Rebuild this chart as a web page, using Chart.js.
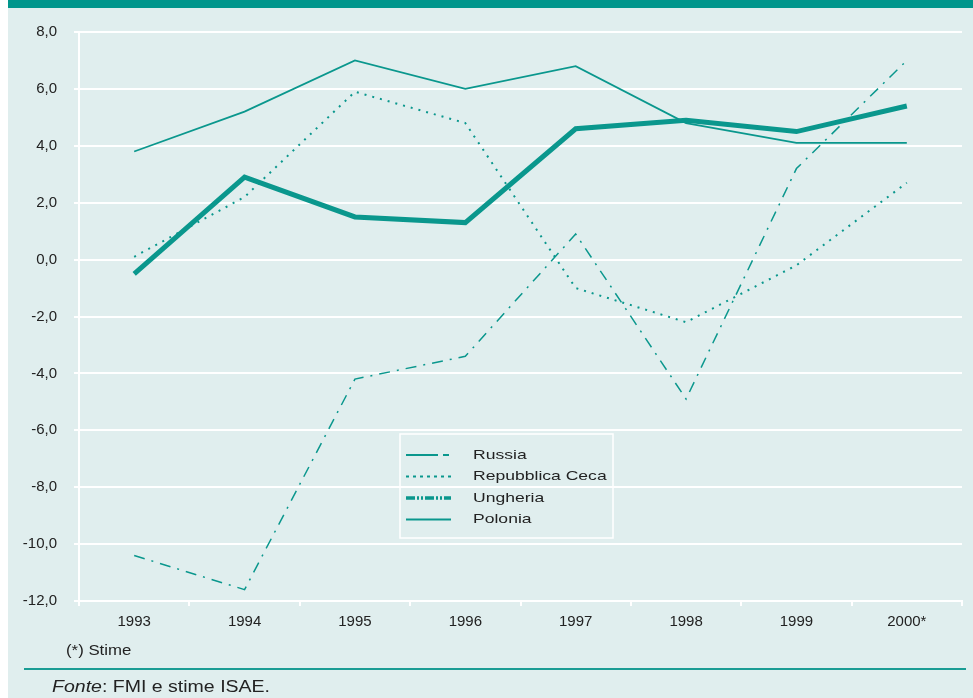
<!DOCTYPE html>
<html>
<head>
<meta charset="utf-8">
<script src="https://cdn.jsdelivr.net/npm/chart.js@4/dist/chart.umd.min.js"></script>
<style>
    body { margin: 0; background: #fff; font-family: "Liberation Sans", Arial, sans-serif; }
    #page { position: absolute; left: 8px; top: 0; width: 965px; height: 698px; background: #e0eeee; }
    #topbar { position: absolute; left: 8px; top: 0; width: 965px; height: 8px; background: #00968c; }
    #chart { position: absolute; left: 0; top: 0; }
    #note { position: absolute; left: 66px; top: 641px; font-size: 15px; color: #222; transform: scaleX(1.12); transform-origin: 0 0; }
    #rule { position: absolute; left: 24px; top: 668px; width: 942px; height: 2px; background: #1a9c94; }
    #fonte { position: absolute; left: 52px; top: 678px; font-size: 16px; color: #222; transform: scaleX(1.22); transform-origin: 0 0; white-space: nowrap; }
</style>
</head>
<body>
<div id="page"></div>
<div id="topbar"></div>
<canvas id="chart" width="973" height="698"></canvas>
<div id="note">(*) Stime</div>
<div id="rule"></div>
<div id="fonte"><i>Fonte</i>: FMI e stime ISAE.</div>
<script>
    const anni = ['1993', '1994', '1995', '1996', '1997', '1998', '1999', '2000*'];

    const russia = [-10.4, -11.6, -4.2, -3.4, 0.9, -4.9, 3.2, 7.0];
    const repCeca = [0.1, 2.2, 5.9, 4.8, -1.0, -2.2, -0.2, 2.7];
    const ungheria = [-0.5, 2.9, 1.5, 1.3, 4.6, 4.9, 4.5, 5.4];
    const polonia = [3.8, 5.2, 7.0, 6.0, 6.8, 4.8, 4.1, 4.1];

    const teal = '#0a978d';
    const fontFamily = '"Liberation Sans", Arial, sans-serif';

    // legend drawn by hand, the samples are line patterns
    const legendaPlugin = {
        id: 'legenda',
        afterDraw(chart) {
            const ctx = chart.ctx;
            ctx.save();
            ctx.strokeStyle = '#ffffff';
            ctx.lineWidth = 1.5;
            ctx.strokeRect(400, 434, 213, 104);

            const voci = [
                { label: 'Russia', dash: [32, 5, 6, 100], width: 2 },
                { label: 'Repubblica Ceca', dash: [3, 4], width: 2 },
                { label: 'Ungheria', dash: [9, 2, 2, 2, 2, 2], width: 3.5 },
                { label: 'Polonia', dash: [], width: 2 }
            ];
            ctx.font = '13.5px ' + fontFamily;
            ctx.textBaseline = 'middle';
            voci.forEach((v, i) => {
                const y = 455 + i * 21.5;
                ctx.strokeStyle = teal;
                ctx.lineWidth = v.width;
                ctx.setLineDash(v.dash);
                ctx.beginPath();
                ctx.moveTo(406, y);
                ctx.lineTo(451, y);
                ctx.stroke();
                ctx.setLineDash([]);
                ctx.fillStyle = '#222';
                ctx.save();
                ctx.translate(473, y);
                ctx.scale(1.3, 1);
                ctx.fillText(v.label, 0, 0);
                ctx.restore();
            });
            ctx.restore();
        }
    };

    const ctx = document.getElementById('chart').getContext('2d');
    new Chart(ctx, {
        type: 'line',
        data: {
            labels: anni,
            datasets: [
                {
                    label: 'Russia',
                    data: russia,
                    borderColor: teal,
                    borderWidth: 1.5,
                    borderDash: [11, 7, 2, 7],
                    pointRadius: 0,
                    tension: 0
                },
                {
                    label: 'Repubblica Ceca',
                    data: repCeca,
                    borderColor: teal,
                    borderWidth: 2,
                    borderDash: [2, 6],
                    pointRadius: 0,
                    tension: 0
                },
                {
                    label: 'Ungheria',
                    data: ungheria,
                    borderColor: teal,
                    borderWidth: 5,
                    pointRadius: 0,
                    tension: 0
                },
                {
                    label: 'Polonia',
                    data: polonia,
                    borderColor: teal,
                    borderWidth: 1.8,
                    pointRadius: 0,
                    tension: 0
                }
            ]
        },
        options: {
            responsive: false,
            animation: false,
            layout: { padding: { left: 0, top: 32, right: 11, bottom: 0 } },
            plugins: {
                legend: { display: false },
                tooltip: { enabled: false }
            },
            scales: {
                x: {
                    offset: true,
                    afterFit: s => { s.height = 97; },
                    grid: {
                        offset: true,
                        drawOnChartArea: true,
                        color: c => (c.index === anni.length ? '#ffffff' : 'rgba(0,0,0,0)'),
                        lineWidth: 2,
                        tickLength: 5,
                        tickColor: '#ffffff',
                        tickWidth: 2
                    },
                    border: { display: true, color: '#ffffff', width: 2 },
                    ticks: {
                        color: '#222',
                        padding: 7,
                        maxRotation: 0,
                        font: { family: fontFamily, size: 15 }
                    }
                },
                y: {
                    min: -12,
                    max: 8,
                    afterFit: s => { s.width = 79; },
                    grid: {
                        color: '#ffffff',
                        lineWidth: 2,
                        tickLength: 5
                    },
                    border: { display: true, color: '#ffffff', width: 2 },
                    ticks: {
                        stepSize: 2,
                        color: '#222',
                        padding: 17,
                        font: { family: fontFamily, size: 15 },
                        callback: v => v.toFixed(1).replace('.', ',')
                    }
                }
            }
        },
        plugins: [legendaPlugin]
    });
</script>
</body>
</html>
